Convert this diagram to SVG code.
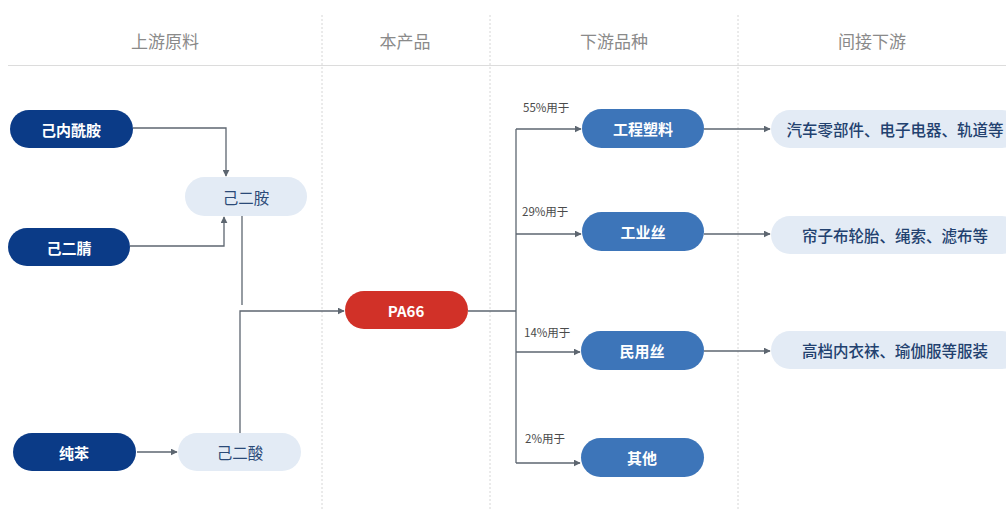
<svg xmlns="http://www.w3.org/2000/svg" width="1006" height="510" viewBox="0 0 1006 510">
<style>
.hdr{font-family:"Noto Sans CJK SC","Liberation Sans",sans-serif;font-size:17px;fill:#8a8a8a;text-anchor:middle}
.dark rect{fill:#0b3b87}
.red rect{fill:#d13128}
.mid rect{fill:#3d75b9}
.light rect{fill:#e3ebf5}
.wt{font-family:"Noto Sans CJK SC","Liberation Sans",sans-serif;font-size:15px;font-weight:bold;fill:#ffffff;text-anchor:middle;dominant-baseline:central}
.lt{font-family:"Noto Sans CJK SC","Liberation Sans",sans-serif;font-size:15.5px;fill:#2b4a78;text-anchor:middle;dominant-baseline:central}
.rt{font-weight:500;fill:#22416f}
.pct{font-family:"Noto Sans CJK SC","Liberation Sans",sans-serif;font-size:11.5px;fill:#4a4a4a}
.ln{fill:none;stroke:#5d6670;stroke-width:1.3}
.sep{stroke:#d6d6d6;stroke-width:1;stroke-dasharray:2 2}
</style>
<defs>
<marker id="ar" viewBox="0 0 10 10" refX="9" refY="5" markerWidth="7" markerHeight="7" markerUnits="userSpaceOnUse" orient="auto">
<path d="M0,0 L10,5 L0,10 z" fill="#5d6670"/>
</marker>
</defs>
<rect width="1006" height="510" fill="#ffffff"/>
<g id="header">
<line class="sep" x1="322" y1="15" x2="322" y2="510"/>
<line class="sep" x1="490" y1="15" x2="490" y2="510"/>
<line class="sep" x1="738" y1="15" x2="738" y2="510"/>
<line x1="8" y1="65.5" x2="1006" y2="65.5" stroke="#dcdcdc" stroke-width="1.2"/>
<text class="hdr" x="165" y="48">上游原料</text>
<text class="hdr" x="405" y="48">本产品</text>
<text class="hdr" x="614" y="48">下游品种</text>
<text class="hdr" x="872" y="48">间接下游</text>
</g>
<g id="connectors">
<path class="ln" d="M133,128 H226 V176" marker-end="url(#ar)"/>
<path class="ln" d="M130,246 H224 V217" marker-end="url(#ar)"/>
<path class="ln" d="M242,216 V305"/>
<path class="ln" d="M240,433 V311 H344" marker-end="url(#ar)"/>
<path class="ln" d="M137,452 H177" marker-end="url(#ar)"/>
<path class="ln" d="M468,311 H516"/>
<path class="ln" d="M516,129 V463"/>
<path class="ln" d="M516,129 H581" marker-end="url(#ar)"/>
<path class="ln" d="M516,234 H581" marker-end="url(#ar)"/>
<path class="ln" d="M516,352 H580" marker-end="url(#ar)"/>
<path class="ln" d="M516,463 H580" marker-end="url(#ar)"/>
<path class="ln" d="M704,129 H770" marker-end="url(#ar)"/>
<path class="ln" d="M704,234 H770" marker-end="url(#ar)"/>
<path class="ln" d="M704,351 H770" marker-end="url(#ar)"/>
<text class="pct" x="523" y="112">55%用于</text>
<text class="pct" x="522" y="216">29%用于</text>
<text class="pct" x="524" y="337">14%用于</text>
<text class="pct" x="525" y="443">2%用于</text>
</g>
<g id="n1" class="dark"><rect x="10" y="110" width="123" height="38" rx="19"/><text class="wt" x="71" y="129">己内酰胺</text></g>
<g id="n2" class="dark"><rect x="8" y="228" width="122" height="38" rx="19"/><text class="wt" x="69" y="247">己二腈</text></g>
<g id="n3" class="dark"><rect x="13" y="433" width="123" height="38" rx="19"/><text class="wt" x="74" y="452">纯苯</text></g>
<g id="n4" class="light"><rect x="185" y="177" width="122" height="39" rx="19.5"/><text class="lt" x="246" y="197">己二胺</text></g>
<g id="n5" class="light"><rect x="178" y="433" width="123" height="38" rx="19"/><text class="lt" x="240" y="452">己二酸</text></g>
<g id="n6" class="red"><rect x="345" y="291" width="123" height="38" rx="19"/><text class="wt" x="406" y="310">PA66</text></g>
<g id="n7" class="mid"><rect x="582" y="109" width="122" height="39" rx="19.5"/><text class="wt" x="643" y="128">工程塑料</text></g>
<g id="n8" class="mid"><rect x="582" y="212" width="122" height="39" rx="19.5"/><text class="wt" x="643" y="231">工业丝</text></g>
<g id="n9" class="mid"><rect x="581" y="331" width="123" height="39" rx="19.5"/><text class="wt" x="642" y="350">民用丝</text></g>
<g id="n10" class="mid"><rect x="581" y="438" width="123" height="39" rx="19.5"/><text class="wt" x="642" y="457">其他</text></g>
<g id="n11" class="light"><rect x="771" y="110" width="250" height="38" rx="19"/><text class="lt rt" x="895" y="129">汽车零部件、电子电器、轨道等</text></g>
<g id="n12" class="light"><rect x="771" y="216" width="250" height="38" rx="19"/><text class="lt rt" x="895" y="235">帘子布轮胎、绳索、滤布等</text></g>
<g id="n13" class="light"><rect x="771" y="331" width="250" height="38" rx="19"/><text class="lt rt" x="895" y="350">高档内衣袜、瑜伽服等服装</text></g>
</svg>
